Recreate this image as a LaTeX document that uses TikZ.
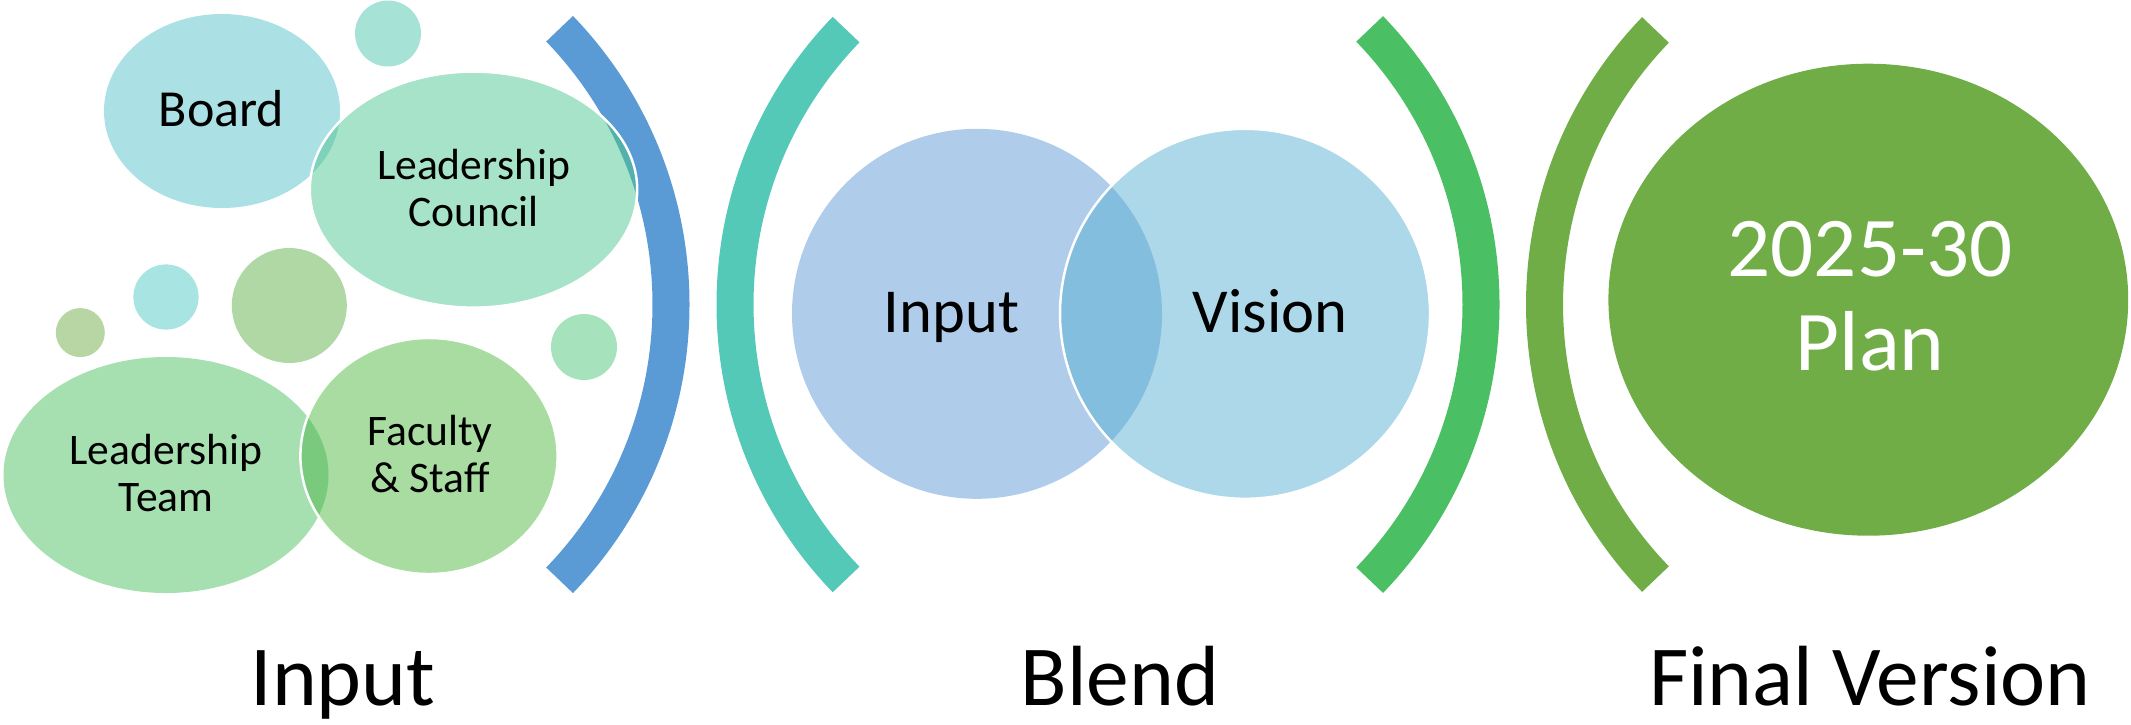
\documentclass[tikz,border=0pt]{standalone}
\usepackage{fontspec}
\setmainfont{Carlito}
\definecolor{boardc}{HTML}{ABE1E5}
\definecolor{councilc}{HTML}{A6E3C8}
\definecolor{lensbc}{HTML}{7ED2BA}
\definecolor{teamc}{HTML}{A6DFB0}
\definecolor{facultyc}{HTML}{A8DCA0}
\definecolor{lenstf}{HTML}{79CA7C}
\definecolor{inputc}{HTML}{AFCDEA}
\definecolor{visionc}{HTML}{ADD8E9}
\definecolor{lensiv}{HTML}{84BEDE}
\definecolor{bluec}{HTML}{5B9BD5}
\definecolor{tealc}{HTML}{55C9B8}
\definecolor{greenc}{HTML}{4ABF63}
\definecolor{olivec}{HTML}{70AD47}
\definecolor{archc}{HTML}{52B1AC}
\begin{document}
\begin{tikzpicture}[x=0.01cm, y=-0.01cm, line join=round,
	brace/.style={line width=0.37cm},
	rim/.style={draw=white, line width=0.7pt},
	intext/.style={align=center, anchor=base, font=\fontsize{12.4}{13.4}\selectfont},
	lbl/.style={anchor=base, font=\fontsize{24.3}{26}\selectfont}]
	\useasboundingbox (0,0) rectangle (2131,724);
	\path
	(222,111) coordinate (B)
	(473.5,189.6) coordinate (C)
	(166,475) coordinate (T)
	(429,456) coordinate (F)
	(977,313.8) coordinate (I)
	(1245,313.8) coordinate (V)
	(1868.3,299.7) coordinate (P)
	;
	% brackets
	\draw[brace, bluec] (274,304.5) ++(-44:397) arc[start angle=-44, end angle=44, radius=397];
	\draw[brace, tealc] (1130.8,304.5) ++(136:395.8) arc[start angle=136, end angle=224, radius=395.8];
	\draw[brace, greenc] (1084.2,304.5) ++(-44:396.8) arc[start angle=-44, end angle=44, radius=396.8];
	\draw[brace, olivec] (1939.8,304.5) ++(136:395.3) arc[start angle=136, end angle=224, radius=395.3];
	% small bubbles
	\foreach \x/\y/\r/\c in {388/33.5/33/A6E3D6, 289.3/305.5/57.5/B0D8A4, 166/297/32.6/A8E4E1, 80.3/332.6/24.5/B8D6A4, 584/347/33/A6E2BC}{
		\definecolor{dotc}{HTML}{\c}
		\fill[dotc] (\x,\y) circle (\r);
	}
	% input group
	\fill[boardc] (B) ellipse [x radius=118, y radius=97];
	\fill[councilc] (C) ellipse [x radius=163.7, y radius=118];
	\begin{scope}
		\clip (B) ellipse [x radius=118, y radius=97];
		\fill[lensbc] (C) ellipse [x radius=163.7, y radius=118];
	\end{scope}
	\begin{scope}
		\clip (C) ellipse [x radius=163.7, y radius=118];
		\draw[brace, archc] (274,304.5) ++(-44:397) arc[start angle=-44, end angle=44, radius=397];
	\end{scope}
	\draw[rim] (C) ellipse [x radius=163.7, y radius=118];
	\fill[teamc] (T) ellipse [x radius=162.5, y radius=118];
	\fill[facultyc] (F) ellipse [x radius=128.6, y radius=118];
	\begin{scope}
		\clip (T) ellipse [x radius=162.5, y radius=118];
		\fill[lenstf] (F) ellipse [x radius=128.6, y radius=118];
	\end{scope}
	\draw[rim] (F) ellipse [x radius=128.6, y radius=118];
	% blend
	\fill[inputc] (I) circle (185);
	\fill[visionc] (V) circle (185);
	\begin{scope}
		\clip (I) circle (185);
		\fill[lensiv] (V) circle (185);
	\end{scope}
	\draw[rim] (V) circle (185);
	% final
	\fill[olivec] (P) ellipse [x radius=259.9, y radius=236];
	% texts
	\node[anchor=base, font=\fontsize{14.8}{16}\selectfont] (board) at (221.5,126.5) {Board};
	\node[intext] (council) at (473.5,226.6) {Leadership\\Council};
	\node[intext] (team) at (166,511.3) {Leadership\\Team};
	\node[intext] (faculty) at (430,492.3) {Faculty\\\& Staff};
	\node[anchor=base, font=\fontsize{17.8}{19}\selectfont] (input) at (951.5,332) {Input};
	\node[anchor=base, font=\fontsize{17.8}{19}\selectfont] (vision) at (1270,332) {Vision};
	\node[anchor=base, align=center, text=white, font=\fontsize{24.2}{26.7}\selectfont] (plan) at (1870,370.5) {2025-30\\Plan};
	\node[lbl] (linput) at (343,705) {Input};
	\node[lbl] (lblend) at (1120,705) {Blend};
	\node[lbl] (lfinal) at (1870,705) {Final Version};
\end{tikzpicture}
\end{document}
